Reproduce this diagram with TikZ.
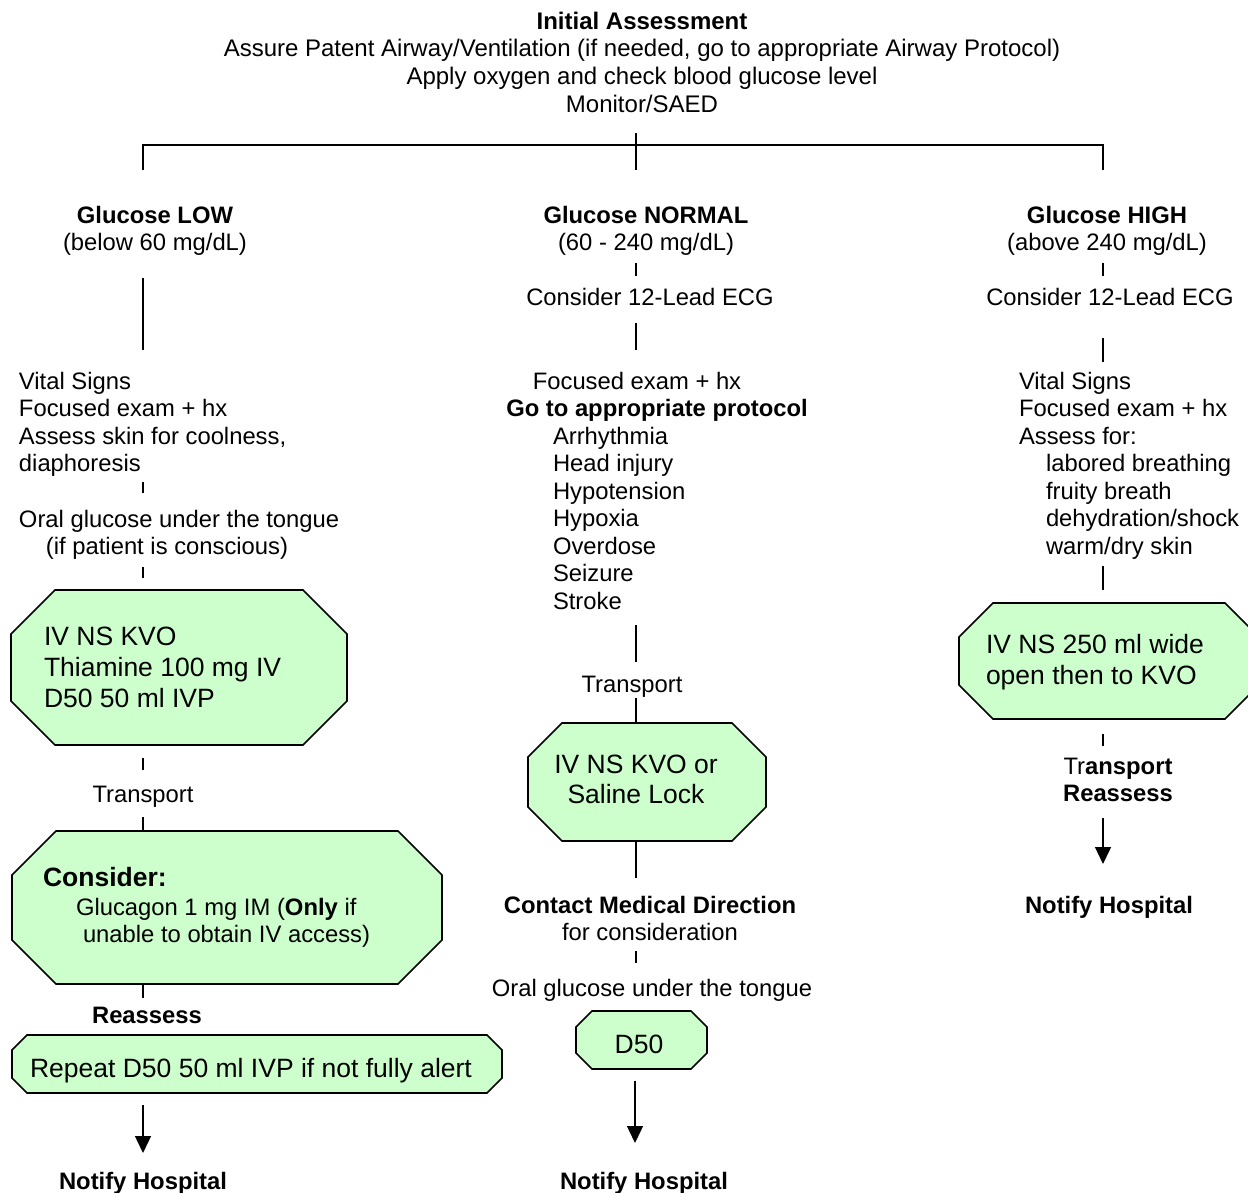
\documentclass[tikz,border=0pt]{standalone}
\usepackage{fontspec}
\setmainfont{Liberation Sans}
\usetikzlibrary{arrows.meta,fit}
\definecolor{boxgreen}{HTML}{CCFFCC}

% Octagonal step box: name, left, top, right, bottom, chamfer
\newcommand\octbox[6]{%
  \draw[octline] (#2+#6,#3) -- (#4-#6,#3) -- (#4,#3+#6) -- (#4,#5-#6)
     -- (#4-#6,#5) -- (#2+#6,#5) -- (#2,#5-#6) -- (#2,#3+#6) -- cycle;
  \coordinate (#1-nw) at (#2,#3);
  \coordinate (#1-se) at (#4,#5);
  \node[fit=(#1-nw)(#1-se), inner sep=0pt] (#1) {};
}

\tikzset{
  txt/.style={inner sep=0pt, outer sep=0pt, anchor=north, yshift=9.1pt,
    font=\fontsize{23.8}{27.5}\selectfont, align=center,
    execute at begin node={\rule{0pt}{17.5pt}}},
  txtl/.style={txt, anchor=north west, align=left},
  boxtxt/.style={inner sep=0pt, outer sep=0pt, anchor=north, yshift=10pt,
    font=\fontsize{26.5}{31}\selectfont, align=center,
    execute at begin node={\rule{0pt}{19.5pt}}},
  boxtxtl/.style={boxtxt, anchor=north west, align=left},
  octline/.style={draw=black, line width=1.6pt, fill=boxgreen, line join=miter},
  conn/.style={line width=1.4pt},
  arr/.style={conn, -{Triangle[width=16pt,length=17pt]}},
  bar/.style={line width=2pt},
}

\begin{document}
\begin{tikzpicture}[x=1pt, y=-1pt]
\useasboundingbox (0,0) rectangle (1248,1193);
\clip (0,0) rectangle (1248,1193);

% ---------- header ----------
\node[txt, font=\fontsize{24}{27.7}\selectfont] (init) at (642,21)
  {\textbf{Initial Assessment}\\
   Assure Patent Airway/Ventilation (if needed, go to appropriate Airway Protocol)\\
   Apply oxygen and check blood glucose level\\
   Monitor/SAED};

% branching bar
\coordinate (brCt) at (636,133);
\coordinate (brCb) at (636,170);
\coordinate (brL) at (143,145);
\coordinate (brR) at (1103,145);
\coordinate (lowtop) at (143,170);
\coordinate (hightop) at (1103,170);
\draw[bar] (lowtop) -- (brL) -- (brR) -- (hightop);
\draw[conn] (brCt) -- (brCb);

% ---------- LOW branch ----------
\node[txt] (lowhd) at (155,215) {\textbf{Glucose LOW}\\(below 60 mg/dL)};
\draw[conn] (143,278) coordinate (l1a) -- (143,350) coordinate (l1b);
\node[txtl] (lowvs) at (19,381)
  {Vital Signs\\Focused exam + hx\\Assess skin for coolness,\\diaphoresis};
\draw[conn] (143,482) coordinate (l2a) -- (143,493) coordinate (l2b);
\node[txtl] (lowog) at (19,519)
  {Oral glucose under the tongue\\\hspace*{27pt}(if patient is conscious)};
\draw[conn] (143,567) coordinate (l3a) -- (143,578) coordinate (l3b);

\octbox{b1}{11}{590}{347}{745}{44}
\node[boxtxtl] (b1t) at (44,637) {IV NS KVO\\Thiamine 100 mg IV\\D50 50 ml IVP};

\draw[conn] (143,758) coordinate (l4a) -- (143,770) coordinate (l4b);
\node[txt] (lowtr) at (143,794) {Transport};

\octbox{b2}{12}{831}{442}{984}{44}
\draw[conn] (143,817) coordinate (l5a) -- (b2.north -| l5a);
\node[boxtxtl] (b2h) at (43,877) {\textbf{Consider:}};
\node[txtl, font=\fontsize{23.8}{27}\selectfont] (b2t) at (76,907)
  {Glucagon 1 mg IM (\textbf{Only} if\\\hspace*{7pt}unable to obtain IV access)};

\draw[conn] (b2.south -| l5a) -- (143,998) coordinate (l6b);
\node[txt] (lowre) at (147,1015) {\textbf{Reassess}};

\octbox{b3}{12}{1035}{502}{1093}{15}
\node[boxtxt] (b3t) at (251,1068) {Repeat D50 50 ml IVP if not fully alert};

\draw[arr] (143,1105) coordinate (l7a) -- (143,1153) coordinate (l7b);
\node[txt] (lownh) at (143,1181) {\textbf{Notify Hospital}};

% ---------- NORMAL branch ----------
\node[txt] (midhd) at (646,215) {\textbf{Glucose NORMAL}\\(60 - 240 mg/dL)};
\draw[conn] (636,263) coordinate (m1a) -- (636,276) coordinate (m1b);
\node[txt] (midecg) at (650,297) {Consider 12-Lead ECG};
\draw[conn] (636,323) coordinate (m2a) -- (636,350) coordinate (m2b);
\node[txt] (midfe) at (637,381) {Focused exam + hx};
\node[txt] (midgo) at (657,408) {\textbf{Go to appropriate protocol}};
\node[txtl] (midlist) at (553,436)
  {Arrhythmia\\Head injury\\Hypotension\\Hypoxia\\Overdose\\Seizure\\Stroke};
\draw[conn] (636,625) coordinate (m3a) -- (636,662) coordinate (m3b);
\node[txt] (midtr) at (632,684) {Transport};

\octbox{b4}{528}{723}{766}{841}{34}
\draw[conn] (636,698) coordinate (m4a) -- (b4.north -| m4a);
\node[boxtxt, font=\fontsize{26.5}{30}\selectfont] (b4t) at (636,765) {IV NS KVO or\\Saline Lock};

\draw[conn] (b4.south -| m4a) -- (636,878) coordinate (m5b);
\node[txt] (midcmd) at (650,905) {\textbf{Contact Medical Direction}\\for consideration};
\draw[conn] (636,951) coordinate (m6a) -- (636,963) coordinate (m6b);
\node[txt] (midog) at (652,988) {Oral glucose under the tongue};

\octbox{b5}{576}{1011}{707}{1069}{16}
\node[boxtxt] (b5t) at (639,1044) {D50};

\draw[arr] (635,1081) coordinate (m7a) -- (635,1143) coordinate (m7b);
\node[txt] (midnh) at (644,1181) {\textbf{Notify Hospital}};

% ---------- HIGH branch ----------
\node[txt] (highhd) at (1107,215) {\textbf{Glucose HIGH}\\(above 240 mg/dL)};
\draw[conn] (1103,263) coordinate (h1a) -- (1103,276) coordinate (h1b);
\node[txt] (highecg) at (1110,297) {Consider 12-Lead ECG};
\draw[conn] (1103,338) coordinate (h2a) -- (1103,362) coordinate (h2b);
\node[txtl] (highvs) at (1019,381)
  {Vital Signs\\Focused exam + hx\\Assess for:\\
   \hspace*{27pt}labored breathing\\\hspace*{27pt}fruity breath\\
   \hspace*{27pt}dehydration/shock\\\hspace*{27pt}warm/dry skin};
\draw[conn] (1103,566) coordinate (h3a) -- (1103,590) coordinate (h3b);

\octbox{b6}{959}{603}{1259}{719}{34}
\node[boxtxtl] (b6t) at (986,644) {IV NS 250 ml wide\\open then to KVO};

\draw[conn] (1103,734) coordinate (h4a) -- (1103,746) coordinate (h4b);
\node[txt] (hightr) at (1118,767) {Tr\textbf{ansport}\\\textbf{Reassess}};
\draw[arr] (1103,818) coordinate (h5a) -- (1103,864) coordinate (h5b);
\node[txt] (highnh) at (1109,905) {\textbf{Notify Hospital}};

\end{tikzpicture}
\end{document}
